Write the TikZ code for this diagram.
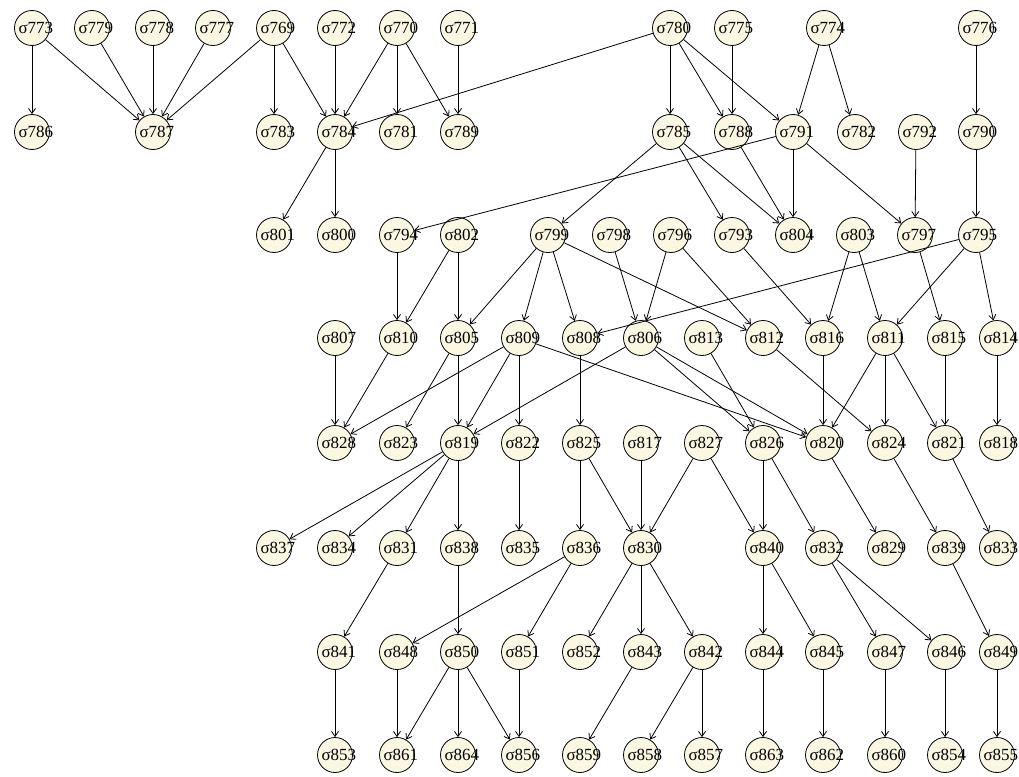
\documentclass[tikz,border=0pt]{standalone}
\usepackage{fontspec}
\setmainfont{Liberation Serif}
\usepackage{tikz}
\usetikzlibrary{arrows.meta}
\definecolor{stcream}{HTML}{FAF8E2}

\begin{document}
\begin{tikzpicture}[x=1pt, y=-1pt,
  st/.style={circle, draw=black, fill=stcream, line width=0.8pt, minimum size=35pt, inner sep=0pt, text width=27pt, align=left, font=\fontsize{17}{17}\selectfont},
  every edge/.style={draw, line width=0.8pt, -{Straight Barb[length=5pt,width=7pt]}}]
  \useasboundingbox (0,0) rectangle (1019,776);
  % row 1
  \node[st] (s773) at (32,28) {σ773};
  \node[st] (s779) at (92,28) {σ779};
  \node[st] (s778) at (153,28) {σ778};
  \node[st] (s777) at (213,28) {σ777};
  \node[st] (s769) at (274,28) {σ769};
  \node[st] (s772) at (335,28) {σ772};
  \node[st] (s770) at (397,28) {σ770};
  \node[st] (s771) at (458,28) {σ771};
  \node[st] (s780) at (670,28) {σ780};
  \node[st] (s775) at (732,28) {σ775};
  \node[st] (s774) at (824,28) {σ774};
  \node[st] (s776) at (976,28) {σ776};
  % row 2
  \node[st] (s786) at (32,132) {σ786};
  \node[st] (s787) at (153,132) {σ787};
  \node[st] (s783) at (274,132) {σ783};
  \node[st] (s784) at (335,132) {σ784};
  \node[st] (s781) at (397,132) {σ781};
  \node[st] (s789) at (458,132) {σ789};
  \node[st] (s785) at (670,132) {σ785};
  \node[st] (s788) at (732,132) {σ788};
  \node[st] (s791) at (793,132) {σ791};
  \node[st] (s782) at (855,132) {σ782};
  \node[st] (s792) at (916,132) {σ792};
  \node[st] (s790) at (976,132) {σ790};
  % row 3
  \node[st] (s801) at (274,235) {σ801};
  \node[st] (s800) at (335,235) {σ800};
  \node[st] (s794) at (397,235) {σ794};
  \node[st] (s802) at (458,235) {σ802};
  \node[st] (s799) at (548,235) {σ799};
  \node[st] (s798) at (610,235) {σ798};
  \node[st] (s796) at (671,235) {σ796};
  \node[st] (s793) at (732,235) {σ793};
  \node[st] (s804) at (793,235) {σ804};
  \node[st] (s803) at (854,235) {σ803};
  \node[st] (s797) at (915,235) {σ797};
  \node[st] (s795) at (976,235) {σ795};
  % row 4
  \node[st] (s807) at (335,338) {σ807};
  \node[st] (s810) at (397,338) {σ810};
  \node[st] (s805) at (458,338) {σ805};
  \node[st] (s809) at (519,338) {σ809};
  \node[st] (s808) at (580,338) {σ808};
  \node[st] (s806) at (641,338) {σ806};
  \node[st] (s813) at (702,338) {σ813};
  \node[st] (s812) at (763,338) {σ812};
  \node[st] (s816) at (823,338) {σ816};
  \node[st] (s811) at (885,338) {σ811};
  \node[st] (s815) at (945,338) {σ815};
  \node[st] (s814) at (997,338) {σ814};
  % row 5
  \node[st] (s828) at (335,443) {σ828};
  \node[st] (s823) at (397,443) {σ823};
  \node[st] (s819) at (458,443) {σ819};
  \node[st] (s822) at (519,443) {σ822};
  \node[st] (s825) at (580,443) {σ825};
  \node[st] (s817) at (641,443) {σ817};
  \node[st] (s827) at (702,443) {σ827};
  \node[st] (s826) at (763,443) {σ826};
  \node[st] (s820) at (823,443) {σ820};
  \node[st] (s824) at (885,443) {σ824};
  \node[st] (s821) at (945,443) {σ821};
  \node[st] (s818) at (997,443) {σ818};
  % row 6
  \node[st] (s837) at (274,548) {σ837};
  \node[st] (s834) at (335,548) {σ834};
  \node[st] (s831) at (397,548) {σ831};
  \node[st] (s838) at (458,548) {σ838};
  \node[st] (s835) at (519,548) {σ835};
  \node[st] (s836) at (580,548) {σ836};
  \node[st] (s830) at (641,548) {σ830};
  \node[st] (s840) at (763,548) {σ840};
  \node[st] (s832) at (823,548) {σ832};
  \node[st] (s829) at (885,548) {σ829};
  \node[st] (s839) at (945,548) {σ839};
  \node[st] (s833) at (997,548) {σ833};
  % row 7
  \node[st] (s841) at (335,652) {σ841};
  \node[st] (s848) at (397,652) {σ848};
  \node[st] (s850) at (458,652) {σ850};
  \node[st] (s851) at (519,652) {σ851};
  \node[st] (s852) at (580,652) {σ852};
  \node[st] (s843) at (641,652) {σ843};
  \node[st] (s842) at (702,652) {σ842};
  \node[st] (s844) at (763,652) {σ844};
  \node[st] (s845) at (823,652) {σ845};
  \node[st] (s847) at (885,652) {σ847};
  \node[st] (s846) at (945,652) {σ846};
  \node[st] (s849) at (997,652) {σ849};
  % row 8
  \node[st] (s853) at (335,755) {σ853};
  \node[st] (s861) at (397,755) {σ861};
  \node[st] (s864) at (458,755) {σ864};
  \node[st] (s856) at (519,755) {σ856};
  \node[st] (s859) at (580,755) {σ859};
  \node[st] (s858) at (641,755) {σ858};
  \node[st] (s857) at (702,755) {σ857};
  \node[st] (s863) at (763,755) {σ863};
  \node[st] (s862) at (823,755) {σ862};
  \node[st] (s860) at (885,755) {σ860};
  \node[st] (s854) at (945,755) {σ854};
  \node[st] (s855) at (997,755) {σ855};
  % transitions
  \path (s773) edge (s786) edge (s787);
  \path (s779) edge (s787);
  \path (s778) edge (s787);
  \path (s777) edge (s787);
  \path (s769) edge (s787) edge (s783) edge (s784);
  \path (s772) edge (s784);
  \path (s770) edge (s784) edge (s781) edge (s789);
  \path (s771) edge (s789);
  \path (s780) edge (s784) edge (s785) edge (s788) edge (s791);
  \path (s775) edge (s788);
  \path (s774) edge (s791) edge (s782);
  \path (s776) edge (s790);
  \path (s784) edge (s801) edge (s800);
  \path (s791) edge (s794) edge (s804) edge (s797);
  \path (s785) edge (s799) edge (s793) edge (s804);
  \path (s788) edge (s804);
  \path (s792) edge (s797);
  \path (s790) edge (s795);
  \path (s794) edge (s810);
  \path (s802) edge (s810) edge (s805);
  \path (s799) edge (s805) edge (s809) edge (s808) edge (s812);
  \path (s798) edge (s806);
  \path (s796) edge (s806) edge (s812);
  \path (s793) edge (s816);
  \path (s803) edge (s816) edge (s811);
  \path (s797) edge (s815);
  \path (s795) edge (s808) edge (s811) edge (s814);
  \path (s807) edge (s828);
  \path (s810) edge (s828);
  \path (s805) edge (s823) edge (s819);
  \path (s809) edge (s828) edge (s819) edge (s822) edge (s820);
  \path (s808) edge (s825);
  \path (s806) edge (s819) edge (s826) edge (s820);
  \path (s813) edge (s826);
  \path (s812) edge (s824);
  \path (s816) edge (s820);
  \path (s811) edge (s820) edge (s824) edge (s821);
  \path (s815) edge (s821);
  \path (s814) edge (s818);
  \path (s819) edge (s837) edge (s834) edge (s831) edge (s838);
  \path (s822) edge (s835);
  \path (s825) edge (s836) edge (s830);
  \path (s817) edge (s830);
  \path (s827) edge (s830) edge (s840);
  \path (s826) edge (s840) edge (s832);
  \path (s820) edge (s829);
  \path (s824) edge (s839);
  \path (s821) edge (s833);
  \path (s831) edge (s841);
  \path (s838) edge (s850);
  \path (s836) edge (s848) edge (s851);
  \path (s830) edge (s852) edge (s843) edge (s842);
  \path (s840) edge (s844) edge (s845);
  \path (s832) edge (s847) edge (s846);
  \path (s839) edge (s849);
  \path (s841) edge (s853);
  \path (s848) edge (s861);
  \path (s850) edge (s861) edge (s864) edge (s856);
  \path (s851) edge (s856);
  \path (s843) edge (s859);
  \path (s842) edge (s858) edge (s857);
  \path (s844) edge (s863);
  \path (s845) edge (s862);
  \path (s847) edge (s860);
  \path (s846) edge (s854);
  \path (s849) edge (s855);
\end{tikzpicture}
\end{document}
